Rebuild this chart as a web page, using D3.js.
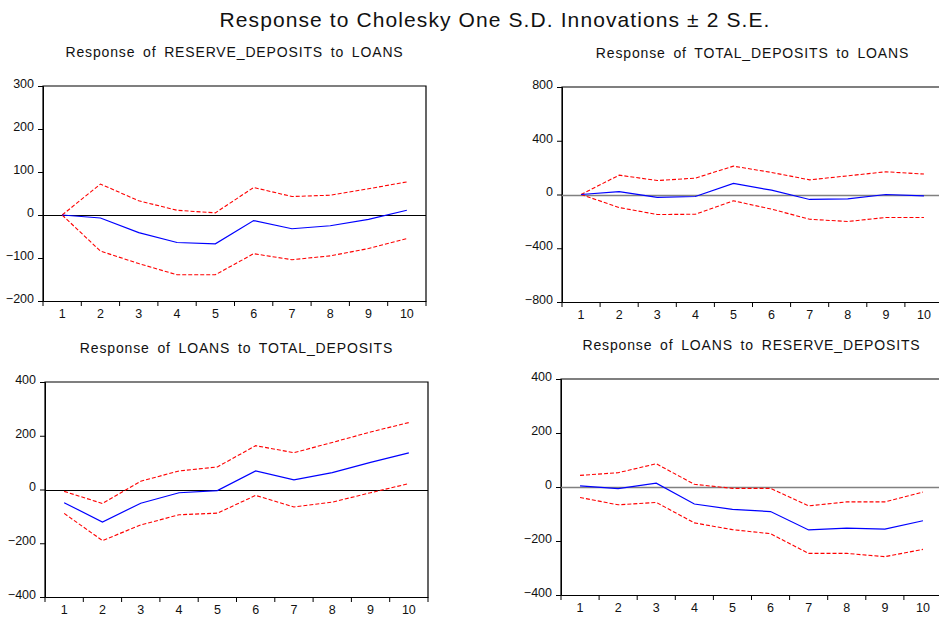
<!DOCTYPE html>
<html lang="en">
  <head>
    <meta charset="utf-8">
    <title>Response to Cholesky One S.D. Innovations</title>
    <script src="https://d3js.org/d3.v7.min.js" charset="utf-8"></script>
    <style>
      body { margin: 0; background: white; }
      text { font-family: "Liberation Sans", Arial, sans-serif; fill: #111; }
    </style>
  </head>
  <body>
    <script>
      var width = 939,
      height = 617;

      // periods after the shock
      var periods = [1, 2, 3, 4, 5, 6, 7, 8, 9, 10];

      var mainTitle = "Response to Cholesky One S.D. Innovations \u00b1 2 S.E.";

      var panelTitles = [
        "Response of RESERVE_DEPOSITS to LOANS",
        "Response of TOTAL_DEPOSITS to LOANS",
        "Response of LOANS to TOTAL_DEPOSITS",
        "Response of LOANS to RESERVE_DEPOSITS"
      ];

      // y axis ranges and tick labels per panel
      var yDomains = [[-200, 300], [-800, 800], [-400, 400], [-400, 400]];
      var yTicks = [
        [-200, -100, 0, 100, 200, 300],
        [-800, -400, 0, 400, 800],
        [-400, -200, 0, 200, 400],
        [-400, -200, 0, 200, 400]
      ];

      // RESERVE_DEPOSITS to LOANS
      var resLoansIrf = [0, -7, -41, -64, -67, -13, -32, -25, -10, 11];
      var resLoansUp  = [0, 72, 33, 11, 5, 64, 43, 46, 61, 77];
      var resLoansLo  = [0, -84, -113, -139, -139, -90, -104, -95, -78, -55];

      // TOTAL_DEPOSITS to LOANS
      var totLoansIrf = [0, 22, -22, -15, 82, 32, -37, -32, 0, -10];
      var totLoansUp  = [0, 144, 104, 122, 211, 164, 109, 139, 169, 152];
      var totLoansLo  = [0, -97, -149, -147, -47, -109, -184, -201, -171, -171];

      // LOANS to TOTAL_DEPOSITS
      var loansTotIrf = [-49, -121, -51, -12, -4, 69, 36, 63, 101, 136];
      var loansTotUp  = [-7, -52, 31, 69, 84, 163, 137, 175, 214, 249];
      var loansTotLo  = [-89, -190, -132, -94, -88, -22, -65, -47, -12, 22];

      // LOANS to RESERVE_DEPOSITS
      var loansResIrf = [4, -6, 14, -63, -83, -91, -159, -152, -156, -125];
      var loansResUp  = [43, 53, 86, 10, -5, -5, -70, -55, -55, -19];
      var loansResLo  = [-39, -66, -57, -133, -158, -173, -246, -246, -258, -231];

      var irfs = [resLoansIrf, totLoansIrf, loansTotIrf, loansResIrf];
      var uppers = [resLoansUp, totLoansUp, loansTotUp, loansResUp];
      var lowers = [resLoansLo, totLoansLo, loansTotLo, loansResLo];

      // plot boxes: left, top, right, bottom
      var boxes = [
        [43, 86, 426, 301],
        [562, 87, 943, 302],
        [45, 382, 428, 597],
        [561, 379, 942, 595]
      ];
      var zeroColors = ["#000", "#808080", "#000", "#808080"];

      var svg = d3.select("body").append("svg")
        .attr("width", width)
        .attr("height", height);

      svg.append("text")
        .attr("x", 495)
        .attr("y", 27)
        .attr("text-anchor", "middle")
        .style("font-size", "21px")
        .style("letter-spacing", "1.1px")
        .text(mainTitle);

      boxes.forEach(function(b, i) {
        var x = d3.scaleBand()
          .domain(periods)
          .range([b[0], b[2]]);

        var y = d3.scaleLinear()
          .domain(yDomains[i])
          .range([b[3], b[1]]);

        var g = svg.append("g");

        g.append("text")
          .attr("x", (b[0] + b[2]) / 2)
          .attr("y", b[1] - 29)
          .attr("text-anchor", "middle")
          .style("font-size", "14px")
          .style("word-spacing", "3px")
          .style("letter-spacing", "0.85px")
          .text(panelTitles[i]);

        // frame: left, top, right
        g.append("path")
          .attr("d", "M" + b[0] + "," + b[3] + "V" + b[1] + "H" + b[2] + "V" + b[3])
          .attr("fill", "none")
          .attr("stroke", "#000")
          .attr("stroke-width", 1.2);

        var yAxis = g.append("g")
          .attr("transform", "translate(" + b[0] + ",0)")
          .call(d3.axisLeft(y).tickValues(yTicks[i]).tickSize(5).tickPadding(4));
        yAxis.selectAll("text").style("font-size", "12.5px").attr("dy", "0.1em");
        yAxis.selectAll("line, path").attr("stroke", "#000");

        var xAxis = g.append("g")
          .attr("transform", "translate(0," + b[3] + ")")
          .call(d3.axisBottom(x).tickSize(0).tickPadding(8));
        xAxis.select(".domain").attr("stroke", "#000").attr("stroke-width", 1.2);
        xAxis.selectAll("text").style("font-size", "12.5px");

        // tick marks at band edges
        var edges = periods.map(function(p) { return x(p); }).concat([b[2]]);
        g.selectAll(".edge")
          .data(edges)
          .enter().append("line")
          .attr("x1", function(d) { return d; })
          .attr("x2", function(d) { return d; })
          .attr("y1", b[3])
          .attr("y2", b[3] + 5)
          .attr("stroke", "#000");

        g.append("line")
          .attr("x1", b[0])
          .attr("x2", b[2])
          .attr("y1", Math.round(y(0)) + 0.5)
          .attr("y2", Math.round(y(0)) + 0.5)
          .attr("stroke", zeroColors[i])
          .attr("stroke-width", zeroColors[i] === "#000" ? 1.2 : 1.6);

        var line = d3.line()
          .x(function(d, j) { return x(periods[j]) + x.bandwidth() / 2; })
          .y(function(d) { return y(d); });

        [uppers[i], lowers[i]].forEach(function(s) {
          g.append("path")
            .datum(s)
            .attr("d", line)
            .attr("fill", "none")
            .attr("stroke", "#ff0000")
            .attr("stroke-width", 1.1)
            .attr("stroke-dasharray", "4,2");
        });

        g.append("path")
          .datum(irfs[i])
          .attr("d", line)
          .attr("fill", "none")
          .attr("stroke", "#0000ff")
          .attr("stroke-width", 1.2);
      });
    </script>
  </body>
</html>
